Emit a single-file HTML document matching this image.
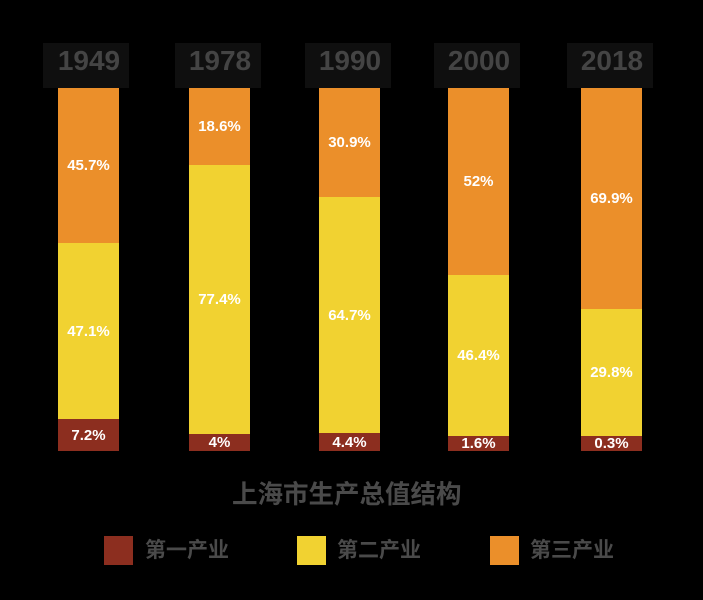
<!DOCTYPE html>
<html><head><meta charset="utf-8"><style>
body{margin:0;width:703px;height:600px;background:#000;position:relative;overflow:hidden;font-family:"Liberation Sans","Noto Sans CJK SC",sans-serif}
div{position:absolute}
.yb{background:#0f0f0f;width:86px;height:45px;top:43px}
.yr{color:#444;font-weight:bold;font-size:28px;width:100px;text-align:center;top:45px}
.s{color:#fff;font-weight:bold;font-size:15px;display:flex;align-items:center;justify-content:center;width:61px}
.o{background:#eb8f2a}.y{background:#f1d231}.r{background:#8c2e1f}
.lg{width:29px;height:29px;top:536px}
.lt{color:#4a4a4a;font-weight:bold;font-size:21px;top:536px;line-height:29px}
</style></head><body>
<div class="yb" style="left:43px"></div><div class="yb" style="left:175px"></div><div class="yb" style="left:305px"></div><div class="yb" style="left:434px"></div><div class="yb" style="left:567px"></div>
<div class="yr" style="left:39px">1949</div><div class="yr" style="left:170px">1978</div><div class="yr" style="left:300px">1990</div><div class="yr" style="left:429px">2000</div><div class="yr" style="left:562px">2018</div>

<div class="s o" style="left:58px;top:88px;height:155px">45.7%</div>
<div class="s y" style="left:58px;top:243px;height:176px">47.1%</div>
<div class="s r" style="left:58px;top:419px;height:32px">7.2%</div>

<div class="s o" style="left:189px;top:88px;height:77px">18.6%</div>
<div class="s y" style="left:189px;top:165px;height:269px">77.4%</div>
<div class="s r" style="left:189px;top:434px;height:17px">4%</div>

<div class="s o" style="left:319px;top:88px;height:109px">30.9%</div>
<div class="s y" style="left:319px;top:197px;height:236px">64.7%</div>
<div class="s r" style="left:319px;top:433px;height:18px">4.4%</div>

<div class="s o" style="left:448px;top:88px;height:187px">52%</div>
<div class="s y" style="left:448px;top:275px;height:161px">46.4%</div>
<div class="s r" style="left:448px;top:436px;height:15px">1.6%</div>

<div class="s o" style="left:581px;top:88px;height:221px">69.9%</div>
<div class="s y" style="left:581px;top:309px;height:127px">29.8%</div>
<div class="s r" style="left:581px;top:436px;height:15px">0.3%</div>

<div style="left:232px;width:240px;top:474px;color:#4a4a4a;font-weight:bold;font-size:25.5px;white-space:nowrap">上海市生产总值结构</div>

<div class="lg r" style="left:104px"></div><div class="lt" style="left:145px">第一产业</div>
<div class="lg y" style="left:297px"></div><div class="lt" style="left:337px">第二产业</div>
<div class="lg o" style="left:490px"></div><div class="lt" style="left:530px">第三产业</div>
</body></html>
